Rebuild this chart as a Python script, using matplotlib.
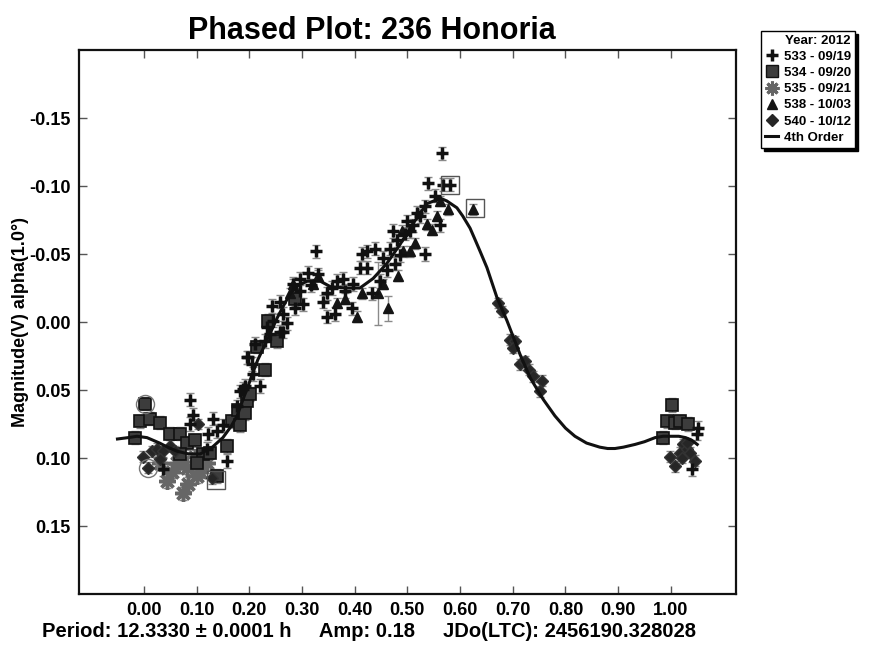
import numpy as np
import matplotlib
matplotlib.use("Agg")
import matplotlib.pyplot as plt
from matplotlib.lines import Line2D

plt.rcParams["font.family"] = ["Liberation Sans", "DejaVu Sans"]
plt.rcParams["font.weight"] = "bold"

# -----------------------------
# data (phase, reduced magnitude)
# -----------------------------
# 533 - 09/19 (plus)
ph_533 = [0.088, 0.094, 0.132, 0.150, 0.122, 0.139, 0.088, 0.037, 0.158, 0.120,
          0.207, 0.192, 0.183, 0.198, 0.206, 0.221, 0.177, 0.240, 0.264, 0.327,
          0.566, 0.540, 0.568, 0.581, 0.562, 0.534, 0.518, 0.500, 0.505, 0.473,
          0.480, 0.486, 0.468, 0.454, 0.439, 0.424, 0.414, 0.410, 0.424, 0.462,
          0.448, 0.433, 0.397, 0.395, 0.378, 0.367, 0.357, 0.348, 0.348, 0.363,
          0.340, 0.331, 0.312, 0.297, 0.283, 0.302, 0.287, 0.259, 0.243, 0.264,
          0.272, 0.245, 0.234, 0.259, 0.230, 0.211, 0.196, 0.188, 0.524, 0.534,
          0.553, 0.510, 0.496, 0.477, 0.382, 0.297, 0.318, 1.050, 1.040, 1.052]
mag_533 = [0.057, 0.068, 0.071, 0.076, 0.082, 0.080, 0.075, 0.108, 0.102, 0.093,
           0.038, 0.047, 0.051, 0.026, 0.031, 0.047, 0.062, 0.009, 0.007, -0.052,
           -0.124, -0.102, -0.101, -0.101, -0.071, -0.050, -0.080, -0.074, -0.067, -0.067,
           -0.060, -0.049, -0.054, -0.047, -0.054, -0.052, -0.050, -0.040, -0.040, -0.038,
           -0.030, -0.021, -0.028, -0.010, -0.032, -0.030, -0.025, -0.021, -0.004, -0.006,
           -0.015, -0.035, -0.036, -0.032, -0.028, -0.013, -0.010, -0.015, -0.012, -0.006,
           0.001, -0.001, 0.004, 0.007, 0.014, 0.016, 0.026, 0.049, -0.078, -0.085,
           -0.093, -0.071, -0.065, -0.043, -0.023, -0.023, -0.027, 0.082, 0.108, 0.078]

# 534 - 09/20 (square)
ph_534 = [0.002, -0.007, 0.012, 0.031, -0.017, 0.050, 0.069, 0.082, 0.097, 0.069,
          0.113, 0.101, 0.126, 0.158, 0.168, 0.179, 0.196, 0.202, 0.139, 0.183,
          0.192, 0.215, 0.230, 0.253, 0.287, 0.236, 1.003, 0.993, 1.008, 1.017,
          1.032, 0.985]
mag_534 = [0.060, 0.073, 0.071, 0.074, 0.085, 0.082, 0.082, 0.089, 0.087, 0.097,
           0.097, 0.104, 0.096, 0.091, 0.073, 0.065, 0.058, 0.053, 0.113, 0.076,
           0.067, 0.018, 0.035, 0.014, -0.017, -0.001, 0.061, 0.073, 0.074, 0.073,
           0.075, 0.085]

# 535 - 09/21 (asterisk)
ph_535 = [0.075, 0.044, 0.054, 0.082, 0.101, 0.069, 0.063, 0.107, 0.084, 0.097,
          0.120, 0.031]
mag_535 = [0.126, 0.117, 0.110, 0.107, 0.113, 0.100, 0.104, 0.110, 0.119, 0.099,
           0.104, 0.104]

# 538 - 10/03 (triangle)
ph_538 = [0.625, 0.578, 0.557, 0.547, 0.515, 0.505, 0.483, 0.464, 0.445, 0.454,
          0.414, 0.405, 0.382, 0.367, 0.321, 0.283, 0.278, 0.331, 0.538, 0.492,
          0.490, 0.562]
mag_538 = [-0.083, -0.083, -0.078, -0.068, -0.058, -0.052, -0.034, -0.010, -0.021, -0.028,
           -0.021, -0.004, -0.017, -0.014, -0.028, -0.028, -0.021, -0.034, -0.072, -0.052,
           -0.067, -0.089]
err_538 = [0.004, 0.004, 0.004, 0.004, 0.004, 0.004, 0.004, 0.009, 0.023, 0.004,
           0.004, 0.004, 0.004, 0.004, 0.004, 0.004, 0.004, 0.004, 0.004, 0.004,
           0.004, 0.004]

# 540 - 10/12 (diamond)
ph_540 = [0.672, 0.680, 0.695, 0.705, 0.701, 0.714, 0.724, 0.730, 0.739, 0.756,
          0.752, -0.001, 0.008, 0.016, 0.025, 0.037, 0.050, 0.103, 0.130, 0.031,
          0.059, 0.999, 1.008, 1.017, 1.023, 1.030, 1.036, 1.045, 1.021, 1.030]
mag_540 = [-0.014, -0.008, 0.013, 0.014, 0.019, 0.031, 0.029, 0.035, 0.040, 0.043,
           0.051, 0.099, 0.107, 0.095, 0.093, 0.095, 0.091, 0.075, 0.115, 0.101,
           0.095, 0.099, 0.106, 0.096, 0.090, 0.093, 0.096, 0.102, 0.100, 0.089]

# typical error per night
err_533 = 0.005
err_534 = 0.005
err_535 = 0.005
err_540 = 0.004

# flagged points (circled / boxed)
circled_ph = [0.002, 0.008]
circled_mag = [0.060, 0.107]
boxed_ph = [0.137, 0.581, 0.629]
boxed_mag = [0.116, -0.101, -0.084]

# 4th order fit
fit_ph = [-0.050, -0.030, -0.013, 0.006, 0.030, 0.045, 0.063, 0.085, 0.107, 0.130,
          0.150, 0.165, 0.177, 0.190, 0.198, 0.206, 0.216, 0.227, 0.240, 0.253,
          0.265, 0.278, 0.293, 0.310, 0.335, 0.354, 0.385, 0.410, 0.435, 0.461,
          0.486, 0.510, 0.537, 0.563, 0.575, 0.594, 0.605, 0.619, 0.628, 0.638,
          0.651, 0.670, 0.689, 0.714, 0.733, 0.758, 0.780, 0.800, 0.818, 0.840,
          0.865, 0.880, 0.894, 0.910, 0.932, 0.950, 0.970, 0.985, 1.000, 1.015,
          1.028, 1.040, 1.050]
fit_mag = [0.086, 0.085, 0.084, 0.085, 0.089, 0.092, 0.095, 0.097, 0.097, 0.092,
           0.085, 0.077, 0.069, 0.055, 0.047, 0.038, 0.028, 0.019, 0.008, -0.003,
           -0.012, -0.021, -0.027, -0.030, -0.030, -0.026, -0.025, -0.025, -0.032, -0.043,
           -0.057, -0.072, -0.087, -0.091, -0.089, -0.084, -0.078, -0.069, -0.061, -0.052,
           -0.040, -0.018, -0.001, 0.024, 0.041, 0.057, 0.069, 0.078, 0.084, 0.089,
           0.092, 0.093, 0.093, 0.092, 0.090, 0.088, 0.085, 0.084, 0.084, 0.084,
           0.085, 0.087, 0.090]

x_ticks = [0.0, 0.1, 0.2, 0.3, 0.4, 0.5, 0.6, 0.7, 0.8, 0.9, 1.0]
y_ticks = [-0.15, -0.10, -0.05, 0.00, 0.05, 0.10, 0.15]

# -----------------------------
# plot
# -----------------------------
fig = plt.figure(figsize=(8.72, 6.54), dpi=100)
ax = fig.add_axes([0.0906, 0.0917, 0.7531, 0.8318])

ecol = "#8a8a8a"
eb = dict(fmt="none", ecolor=ecol, elinewidth=1, capsize=3, capthick=1, zorder=1)
ax.errorbar(ph_533, mag_533, yerr=err_533, **eb)
ax.errorbar(ph_534, mag_534, yerr=err_534, **eb)
ax.errorbar(ph_535, mag_535, yerr=err_535, **eb)
ax.errorbar(ph_538, mag_538, yerr=err_538, **eb)
ax.errorbar(ph_540, mag_540, yerr=err_540, **eb)

ax.plot(ph_535, mag_535, ls="none", marker=(8, 2, 0), ms=12, mew=2.5,
        color="#666666", zorder=2)
ax.plot(ph_534, mag_534, ls="none", marker="s", ms=8, mfc="#3c3c3c",
        mec="#111111", mew=1.2, zorder=3)
ax.plot(ph_540, mag_540, ls="none", marker="D", ms=6, mfc="#262626",
        mec="#333333", zorder=3)
ax.plot(ph_538, mag_538, ls="none", marker="^", ms=7.5, color="#151515", zorder=3)
ax.plot(ph_533, mag_533, ls="none", marker="+", ms=9, mew=2.5,
        color="#111111", zorder=4)

ax.plot(circled_ph, circled_mag, ls="none", marker="o", ms=13, mfc="none",
        mec="#777777", mew=1, zorder=5)
ax.plot(boxed_ph, boxed_mag, ls="none", marker="s", ms=13, mfc="none",
        mec="#555555", mew=1, zorder=5)

ax.plot(fit_ph, fit_mag, color="#111111", lw=2.2, zorder=6,
        solid_joinstyle="round")

ax.set_xlim(-0.123, 1.123)
ax.set_ylim(0.20, -0.20)
ax.set_xticks(x_ticks)
ax.set_yticks(y_ticks)
ax.set_xticklabels([f"{v:.2f}" for v in x_ticks])
ax.set_yticklabels([f"{v:.2f}" for v in y_ticks])
ax.tick_params(direction="in", length=6, width=1, color="#555555",
               top=True, right=True, labelsize=13, pad=6)
for s in ax.spines.values():
    s.set_linewidth(1.6)
    s.set_color("#111111")

ax.set_ylabel("Magnitude(V) alpha(1.0°)", fontsize=13, fontweight="bold",
              labelpad=0)

fig.text(0.4266, 0.952, "Phased Plot: 236 Honoria", ha="center", va="center",
         fontsize=22, fontweight="bold")
fig.text(0.048, 0.034,
         "Period: 12.3330 \u00b1 0.0001 h     Amp: 0.18     JDo(LTC): 2456190.328028",
         ha="left", va="center", fontsize=14.5, fontweight="bold")

handles = [
    Line2D([], [], ls="none", marker="+", ms=9, mew=2.5, color="#111111"),
    Line2D([], [], ls="none", marker="s", ms=8, mfc="#3c3c3c", mec="#111111"),
    Line2D([], [], ls="none", marker=(8, 2, 0), ms=10, mew=2.2, color="#666666"),
    Line2D([], [], ls="none", marker="^", ms=7.5, color="#151515"),
    Line2D([], [], ls="none", marker="D", ms=6, color="#262626"),
    Line2D([], [], color="#111111", lw=2.2),
]
labels = ["533 - 09/19", "534 - 09/20", "535 - 09/21", "538 - 10/03",
          "540 - 10/12", "4th Order"]
leg = fig.legend(handles, labels, loc="upper left", bbox_to_anchor=(0.873, 0.953),
                 title="Year: 2012", alignment="right", fontsize=9.5,
                 title_fontsize=9.5, frameon=True, fancybox=False,
                 shadow={"color": "black", "alpha": 1}, edgecolor="black",
                 handlelength=1.0, handletextpad=0.4, borderpad=0.3,
                 labelspacing=0.3, borderaxespad=0)
leg.get_frame().set_linewidth(1)
leg.get_title().set_fontweight("bold")
for t in leg.get_texts():
    t.set_fontweight("bold")

fig.savefig("out.png", dpi=100)
